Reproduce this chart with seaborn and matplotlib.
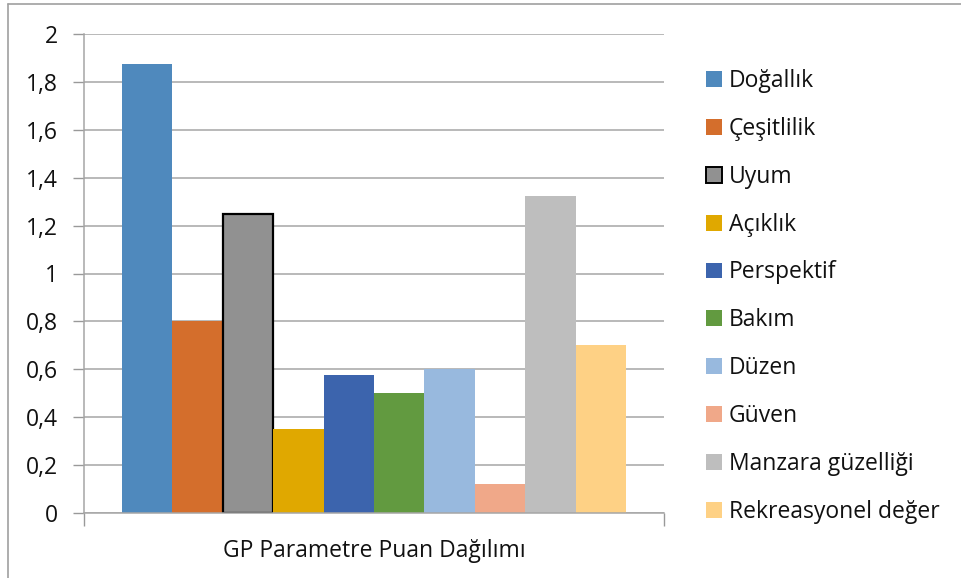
import matplotlib
matplotlib.use("Agg")
import matplotlib.pyplot as plt
from matplotlib.patches import Patch
from matplotlib.lines import Line2D
import seaborn as sns
import pandas as pd

# Parameter scores
parameters = ["Doğallık", "Çeşitlilik", "Uyum", "Açıklık", "Perspektif",
              "Bakım", "Düzen", "Güven", "Manzara güzelliği", "Rekreasyonel değer"]
scores = [1.875, 0.80, 1.25, 0.35, 0.575, 0.50, 0.60, 0.12, 1.325, 0.70]
colors = ["#4F89BD", "#D46E2C", "#919191", "#E0A800", "#3C64AD",
          "#629A40", "#98B9DE", "#F0A889", "#BEBEBE", "#FED185"]
group_label = "GP Parametre Puan Dağılımı"
y_ticks = [0, 0.2, 0.4, 0.6, 0.8, 1.0, 1.2, 1.4, 1.6, 1.8, 2.0]
y_tick_labels = ["0", "0,2", "0,4", "0,6", "0,8", "1", "1,2", "1,4", "1,6", "1,8", "2"]

df = pd.DataFrame({"grup": [group_label] * len(parameters),
                   "parametre": parameters,
                   "puan": scores})

sns.set_theme(style="white")
plt.rcParams["font.family"] = ["Open Sans", "DejaVu Sans"]

W, H = 961, 578
fig = plt.figure(figsize=(W / 100, H / 100), dpi=100)
ax = fig.add_axes([84 / W, 1 - 513 / H, (664 - 84) / W, (513 - 34) / H])

sns.barplot(data=df, x="grup", y="puan", hue="parametre",
            hue_order=parameters, palette=colors, width=0.87,
            dodge=True, saturation=1, legend=False, ax=ax, errorbar=None)

# Outline the "Uyum" bar
for patch, name in zip(ax.patches, parameters):
    patch.set_linewidth(0)
    if name == "Uyum":
        patch.set_edgecolor("black")
        patch.set_linewidth(1.6)

ax.set_xlim(-0.5, 0.5)
ax.set_ylim(0, 2)
ax.set_yticks(y_ticks)
ax.set_yticklabels(y_tick_labels, fontsize=16.5, color="#111111")
ax.yaxis.grid(True, color="#A6A6A6", linewidth=1.1)
ax.set_axisbelow(True)
ax.tick_params(axis="y", length=8, width=1, color="#999999", pad=11, left=True)

ax.set_xticks([0])
ax.set_xticklabels([group_label], fontsize=16.5, color="#111111")
ax.tick_params(axis="x", length=0, pad=19)
ax.set_xticks([-0.5, 0.5], minor=True)
ax.tick_params(axis="x", which="minor", length=9, width=1, color="#999999", bottom=True)
ax.set_xlabel("")
ax.set_ylabel("")

for side in ["top", "right"]:
    ax.spines[side].set_visible(False)
for side in ["left", "bottom"]:
    ax.spines[side].set_color("#A6A6A6")
    ax.spines[side].set_linewidth(1.1)

# Legend on the right
handles = []
for name, c in zip(parameters, colors):
    if name == "Uyum":
        handles.append(Patch(facecolor=c, edgecolor="black", linewidth=1.4))
    else:
        handles.append(Patch(facecolor=c, edgecolor="none"))
leg = fig.legend(handles, parameters, loc="upper left",
                 bbox_to_anchor=(697 / W, 1 - 60 / H), frameon=False,
                 fontsize=16.5, handlelength=0.68, handleheight=0.68,
                 handletextpad=0.32, labelspacing=1.04, borderaxespad=0)
for t in leg.get_texts():
    t.set_color("#111111")

# Outer frame lines
fig.add_artist(Line2D([8 / W, 8 / W], [0, 1 - 4 / H], transform=fig.transFigure,
                      color="#A0A0A0", linewidth=1.2))
fig.add_artist(Line2D([8 / W, 1], [1 - 4 / H, 1 - 4 / H], transform=fig.transFigure,
                      color="#A0A0A0", linewidth=1.2))

fig.savefig("out.png", dpi=100)
